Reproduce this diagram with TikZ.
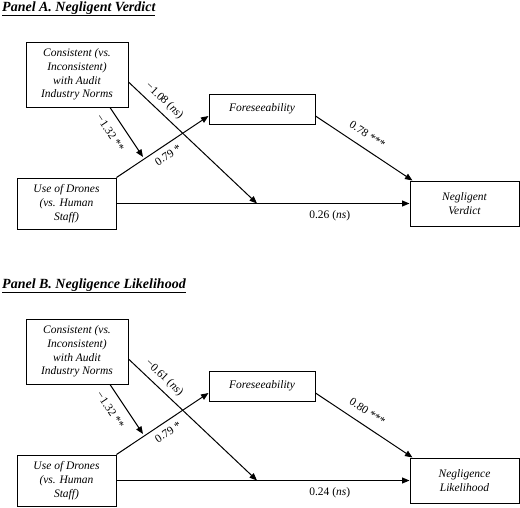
\documentclass[tikz,border=0pt]{standalone}
\usepackage{fontspec}
\setmainfont{Liberation Serif}
\usetikzlibrary{arrows.meta}
\tikzset{
  box/.style={draw, line width=1pt, inner sep=0pt, align=center,
    font=\fontsize{11.5}{13.7}\selectfont\itshape},
  arr/.style={line width=1pt, -{Triangle[length=7.5pt,width=6pt]}},
  coef/.style={font=\fontsize{11.5}{13.7}\selectfont, sloped,
    text height=8pt, text depth=2.5pt},
  ttl/.style={anchor=base west, inner sep=0pt,
    font=\fontsize{14}{16}\selectfont\bfseries\itshape},
}
\newcommand\mypanel[7]{%
  \node[ttl] (title#1) at (2,11) {\underline{#2}};
  \node[box, minimum width=102pt, minimum height=65pt] (cons#1) at (77,74.5)
    {Consistent (vs.\\Inconsistent)\\with Audit\\Industry Norms};
  \node[box, minimum width=106pt, minimum height=30pt] (fore#1) at (262,109)
    {Foreseeability};
  \node[box, minimum width=99pt, minimum height=51pt] (use#1) at (66.5,203.5)
    {Use of Drones\\(vs. Human\\Staff)};
  \node[box, minimum width=109pt, minimum height=45pt] (out#1) at (464.5,203.5)
    {#3};
  \coordinate (hit#1) at (257,203.5);
  \coordinate (mod#1) at (143,157);
  \draw[arr] (use#1.east) -- (out#1.west)
    node[coef, pos=0.728, anchor=north, inner sep=6.2pt] {#6 (\textit{ns})};
  \draw[arr] ([yshift=-7.5pt]cons#1.east) -- (hit#1)
    node[coef, pos=0.22, anchor=south, inner sep=5pt] {#4 (\textit{ns})};
  \draw[arr] ([xshift=33pt]cons#1.south) -- (mod#1)
    node[coef, pos=0.36, anchor=north, inner sep=9pt] {−1.32 **};
  \draw[arr] (use#1.north east) -- ([yshift=-7pt]fore#1.west)
    node[coef, pos=0.5, anchor=north, inner sep=5.2pt] {0.79 *};
  \draw[arr] ([yshift=-7pt]fore#1.east) -- ([xshift=3pt]out#1.north west)
    node[coef, pos=0.46, anchor=south, inner sep=6.5pt] {#5 ***};
}
\begin{document}
\begin{tikzpicture}[x=1pt, y=-1pt]
  \useasboundingbox (0,0) rectangle (520,507);
  \mypanel{A}{Panel A. Negligent Verdict}{Negligent\\Verdict}{−1.08}{0.78}{0.26}{}
  \begin{scope}[yshift=-277pt]
    \mypanel{B}{Panel B. Negligence Likelihood}{Negligence\\Likelihood}{−0.61}{0.80}{0.24}{}
  \end{scope}
\end{tikzpicture}
\end{document}
